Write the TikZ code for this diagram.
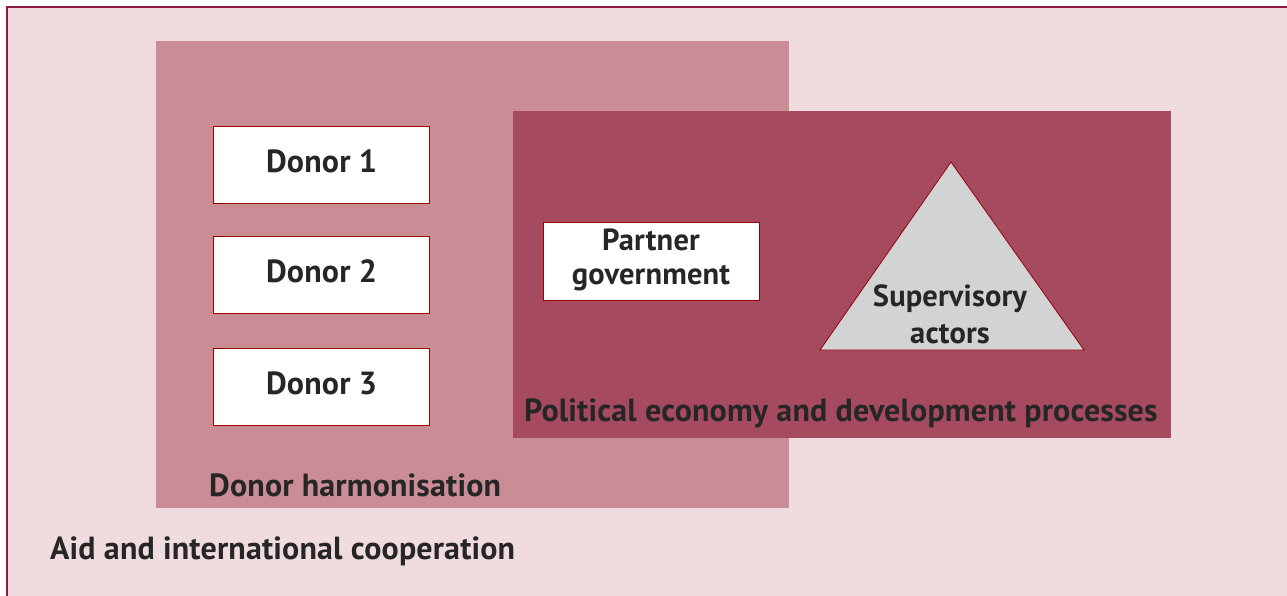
\documentclass[tikz,border=0pt]{standalone}
\usepackage{fontspec}
\setmainfont{PT Sans}[LetterSpace=0.5]
\begin{document}
\begin{tikzpicture}[x=1pt,y=-1pt,
  lbl/.style={font=\bfseries\fontsize{32}{36}\selectfont, text=black!85, inner sep=0pt},
  slbl/.style={font=\bfseries\fontsize{30.5}{34}\selectfont, text=black!85, inner sep=0pt},
  wbox/.style={draw=red!60!black, line width=0.8pt, fill=white},
  ]
\definecolor{bgpink}{HTML}{F0DCDF}
\definecolor{midpink}{HTML}{CB8D95}
\definecolor{darkpink}{HTML}{A64A60}
\definecolor{framec}{HTML}{8E1A46}
\definecolor{trig}{HTML}{D1D3D4}
\useasboundingbox (0,0) rectangle (1287,596);
\fill[white] (0,0) rectangle (1287,596);
\fill[bgpink] (7,7) rectangle (1287,596);
\draw[framec, line width=2pt] (7,600) -- (7,7) -- (1290,7);
\fill[midpink] (156,41) rectangle (789,508);
\fill[darkpink] (513,111) rectangle (1171,438);
\node[wbox, minimum width=216pt, minimum height=77pt] (d1) at (321.5,164.5) {};
\node[wbox, minimum width=216pt, minimum height=77pt] (d2) at (321.5,274.5) {};
\node[wbox, minimum width=216pt, minimum height=77pt] (d3) at (321.5,386.5) {};
\node[lbl, anchor=base] at (321.5,172.7) {Donor 1};
\node[lbl, anchor=base] at (321.5,282.7) {Donor 2};
\node[lbl, anchor=base] at (321.5,394.7) {Donor 3};
\node[wbox, minimum width=216pt, minimum height=78pt] (pg) at (651,261) {};
\node[slbl, anchor=base] at (651,250.5) {Partner};
\node[slbl, anchor=base] at (651,284) {government};
\draw[red!60!black, line width=0.8pt, fill=trig] (951,162) -- (1084,350) -- (820,350) -- cycle;
\node[slbl, anchor=base] (sa1) at (950,306.7) {Supervisory};
\node[slbl, anchor=base] (sa2) at (950,343) {actors};
\node[lbl, anchor=base west] (pe) at (524,421.5) {Political economy and development processes};
\node[lbl, anchor=base west] (dh) at (209,496) {Donor harmonisation};
\node[lbl, anchor=base west] (ai) at (50,559) {Aid and international cooperation};
\end{tikzpicture}
\end{document}
